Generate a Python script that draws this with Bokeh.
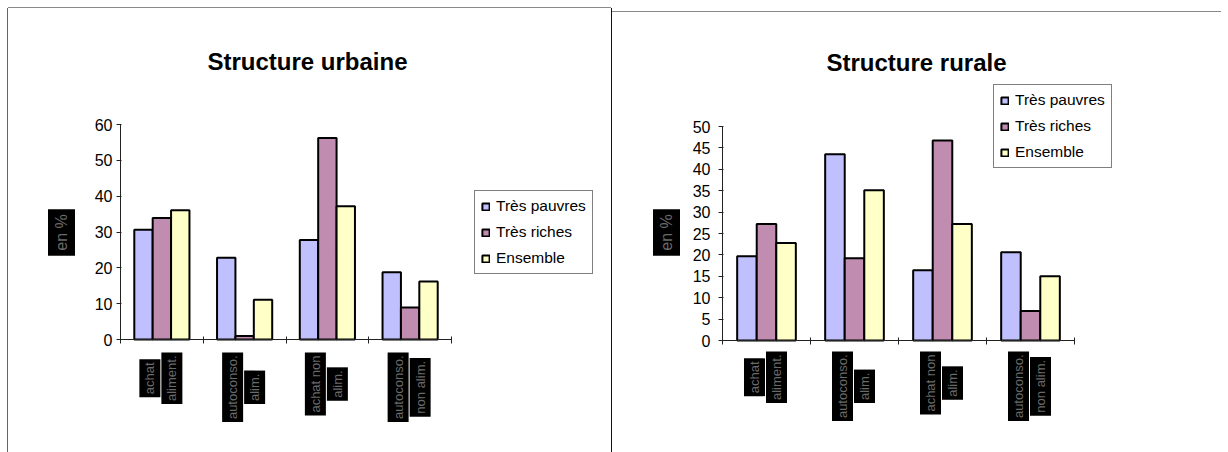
from bokeh.plotting import figure
from bokeh.models import Range1d, FixedTicker, Label, Legend, LegendItem, ColumnDataSource
from bokeh.layouts import row
from bokeh.embed import file_html
from bokeh.resources import INLINE

# ---------------- data ----------------
series_names = ["Très pauvres", "Très riches", "Ensemble"]
series_colors = ["#C0C0FF", "#C08CB0", "#FFFFC8"]

cat_lines = [("achat", "aliment."),
             ("autoconso.", "alim."),
             ("achat non", "alim."),
             ("autoconso.", "non alim.")]

urb_pauvres = [30.6, 22.8, 27.8, 18.8]
urb_riches = [33.9, 1.0, 56.2, 8.9]
urb_ensemble = [36.1, 11.1, 37.2, 16.2]

rur_pauvres = [19.7, 43.5, 16.4, 20.6]
rur_riches = [27.2, 19.2, 46.7, 6.9]
rur_ensemble = [22.8, 35.1, 27.2, 15.0]

urb_ticks = [0, 10, 20, 30, 40, 50, 60]
rur_ticks = [0, 5, 10, 15, 20, 25, 30, 35, 40, 45, 50]

FONT = "Liberation Sans"

# approximate Arial advance widths (per 1000 em) used to centre the label blocks
AW = {"a": 556, "c": 500, "h": 556, "t": 278, " ": 278, "n": 556, "o": 556,
      "l": 222, "i": 222, "m": 833, "e": 556, "u": 556, "s": 500, ".": 278}


def text_len(s, size):
    return sum(AW.get(c, 556) for c in s) * size / 1000.0


FL, FT = 36, 20   # offset of the frame inside each figure (left, top)


def make_panel(title, values, ticks, fig_box, axes_box, title_xy, ylab_xy, legend_xy,
               label_top, standoff, styles, margin):
    fx, fy, W, H = fig_box
    ax_l, ax_r, ax_t, ax_b = axes_box
    frame_l, frame_r, frame_t, frame_b = fx + FL, fx + W, fy + FT, fy + H
    ncat = len(cat_lines)
    ymax = ticks[-1]
    kx = ncat / (ax_r - ax_l)
    ky = ymax / (ax_b - ax_t)
    xr = Range1d(-(ax_l - frame_l) * kx, ncat + (frame_r - ax_r) * kx)
    yr = Range1d(-(frame_b - ax_b) * ky, ymax + (ax_t - frame_t) * ky)

    def sx(px):
        return px - frame_l

    def sy(py):
        return frame_b - py

    p = figure(width=W, height=H, output_backend="svg", toolbar_location=None, tools="",
               x_range=xr, y_range=yr, x_axis_location="above", y_axis_location="left",
               min_border_left=FL, min_border_right=0, min_border_top=FT,
               min_border_bottom=0, styles=styles, margin=margin)
    p.outline_line_color = None
    p.xgrid.visible = False
    p.ygrid.visible = False

    bw = 2.0 / 9.0
    items = []
    for k, (name, color, vals) in enumerate(zip(series_names, series_colors, values)):
        src = ColumnDataSource(dict(x=[i + 0.5 + (k - 1) * bw for i in range(len(vals))],
                                    top=vals))
        rr = p.vbar(x="x", top="top", bottom=0, width=bw, source=src,
                    fill_color=color, line_color="black", line_width=2)
        items.append(LegendItem(label=name, renderers=[rr]))

    # x axis (crossing at y = 0)
    xa = p.xaxis[0]
    xa.fixed_location = 0
    xa.bounds = (0, ncat)
    xa.ticker = FixedTicker(ticks=list(range(ncat + 1)))
    xa.major_label_overrides = {i: "" for i in range(ncat + 1)}
    xa.major_label_text_font_size = "1px"
    xa.major_label_standoff = 0
    xa.minor_tick_line_color = None
    xa.major_tick_in = 4
    xa.major_tick_out = 3
    xa.axis_line_color = "#222222"
    xa.major_tick_line_color = "#222222"

    # y axis (crossing at x = 0)
    ya = p.yaxis[0]
    ya.fixed_location = 0
    ya.bounds = (0, ymax)
    ya.ticker = FixedTicker(ticks=ticks)
    ya.minor_tick_line_color = None
    ya.major_tick_in = 1
    ya.major_tick_out = 4
    ya.axis_line_color = "#222222"
    ya.major_tick_line_color = "#222222"
    ya.major_label_text_font = FONT
    ya.major_label_text_font_size = "16px"
    ya.major_label_text_color = "black"
    ya.major_label_standoff = standoff

    # chart title
    p.add_layout(Label(x=sx(title_xy[0]), y=sy(title_xy[1]), x_units="screen",
                       y_units="screen", text=title, text_font=FONT,
                       text_font_style="bold", text_font_size="24px", text_align="center",
                       text_baseline="alphabetic", text_color="black"))

    # y axis title (black box)
    p.add_layout(Label(x=sx(ylab_xy[0]), y=sy(ylab_xy[1]), x_units="screen",
                       y_units="screen", text="en %", angle=90, angle_units="deg",
                       text_align="center", text_baseline="middle", text_font=FONT,
                       text_font_size="16px", text_color="#6a6a6a",
                       background_fill_color="black", padding=5))

    # category labels (rotated, black boxes)
    for i, lines in enumerate(cat_lines):
        lmax = max(text_len(s, 13) for s in lines) + 6
        cy = sy(label_top + lmax / 2.0)
        for j, s in enumerate(lines):
            p.add_layout(Label(x=i + 0.5, y=cy, x_units="data", y_units="screen",
                               x_offset=[-12, 10][j], text=s, angle=90,
                               angle_units="deg", text_align="center",
                               text_baseline="middle", text_font=FONT,
                               text_font_size="13px", text_color="#6a6a6a",
                               background_fill_color="black", padding=3))

    legend = Legend(items=items, location=(sx(legend_xy[0]), sy(legend_xy[1])), margin=0,
                    padding=6, spacing=8, label_height=16, glyph_width=9, glyph_height=9,
                    label_standoff=6, label_text_font=FONT, label_text_font_size="15.5px",
                    label_text_color="black", border_line_color="black",
                    border_line_width=1, background_fill_color="white",
                    background_fill_alpha=1.0)
    p.add_layout(legend)
    return p


# page geometry (pixels): figure box, plot axes box (cat 0, cat N, top tick, zero)
p1 = make_panel("Structure urbaine", [urb_pauvres, urb_riches, urb_ensemble], urb_ticks,
                (8, 8, 603, 444), (120, 451, 124, 339), (307, 61), (61, 232), (474, 274),
                352, 4,
                {"box-shadow": "-1px 0 0 0 #666666, 1px 0 0 0 #111111, 0 -1px 0 0 #888888"},
                (8, 0, 0, 8))

p2 = make_panel("Structure rurale", [rur_pauvres, rur_riches, rur_ensemble], rur_ticks,
                (612, 12, 609, 440), (722, 1074, 126, 340), (916, 62), (666, 232),
                (993, 168), 351, 8,
                {"box-shadow": "-1px 0 0 0 #111111, 0 -1px 0 0 #888888"},
                (12, 0, 0, 1))

layout = row(p1, p2)

with open("out.html", "w") as f:
    f.write(file_html(layout, INLINE))
